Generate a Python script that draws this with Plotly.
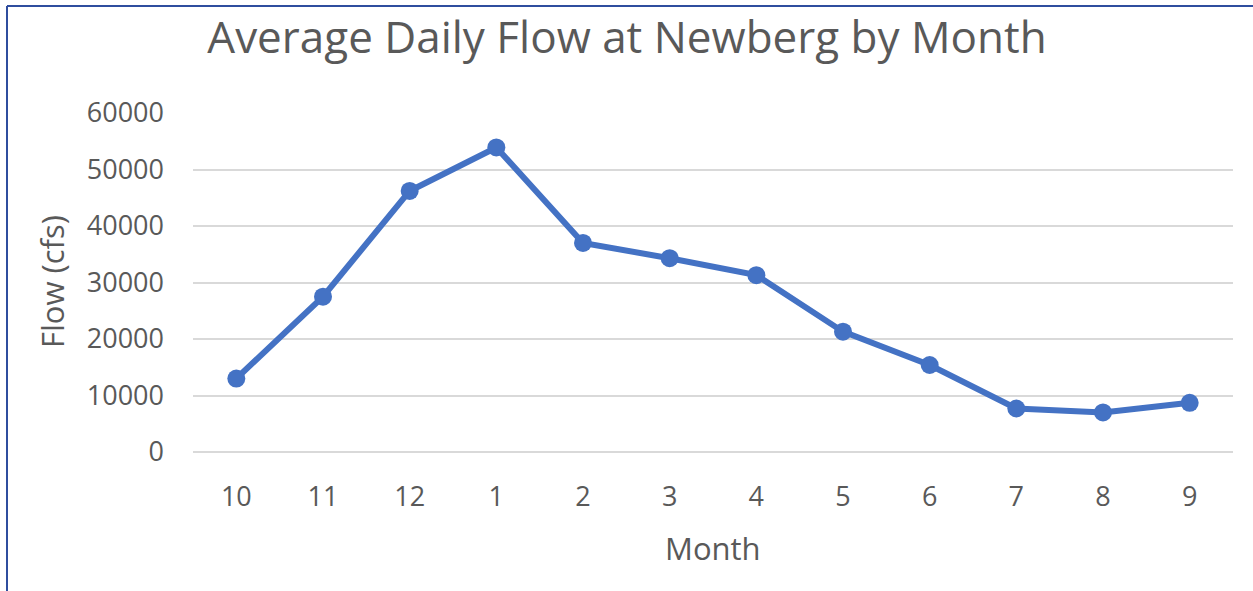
import plotly.graph_objects as go

# Water-year months, October through September
months = ["10", "11", "12", "1", "2", "3", "4", "5", "6", "7", "8", "9"]
flow_cfs = [13000, 27500, 46200, 53900, 37000, 34300, 31300, 21300, 15400, 7700, 7000, 8700]
y_ticks = [0, 10000, 20000, 30000, 40000, 50000, 60000]

W, H = 1253, 591
ML, MR, MT, MB = 193, 20, 113, 139
plot_w = W - ML - MR
plot_h = H - MT - MB

text_color = "#595959"
font_family = "Open Sans, Noto Sans, sans-serif"

fig = go.Figure()
fig.add_trace(go.Scatter(
    x=months,
    y=flow_cfs,
    mode="lines+markers",
    line=dict(color="#4472C4", width=6),
    marker=dict(color="#4472C4", size=18),
    hoverinfo="x+y",
))

def px_x(px):
    return (px - ML) / plot_w

def px_y(py):
    return (H - MB - py) / plot_h

# Frame edges along the top and left of the canvas
frame = dict(type="line", xref="paper", yref="paper",
             line=dict(color="#2F4D9E", width=2), layer="above")
fig.add_shape(**frame, x0=px_x(7), x1=px_x(7), y0=px_y(H + 5), y1=px_y(6))
fig.add_shape(**frame, x0=px_x(7), x1=px_x(W + 5), y0=px_y(6), y1=px_y(6))

fig.update_layout(
    width=W, height=H,
    margin=dict(l=ML, r=MR, t=MT, b=MB),
    paper_bgcolor="white",
    plot_bgcolor="white",
    showlegend=False,
    font=dict(family=font_family, color=text_color),
    title=dict(
        text="Average Daily Flow at Newberg by Month",
        x=px_x(627), xref="paper", xanchor="center",
        y=1 - 38 / H, yref="container", yanchor="middle",
        font=dict(size=44, color=text_color, family=font_family),
    ),
    annotations=[
        dict(text="Flow (cfs)", textangle=-90, showarrow=False,
             xref="paper", yref="paper", x=px_x(52), y=px_y(282),
             xanchor="center", yanchor="middle",
             font=dict(size=31, color=text_color, family=font_family)),
        dict(text="Month", showarrow=False,
             xref="paper", yref="paper", x=px_x(713), y=px_y(548),
             xanchor="center", yanchor="middle",
             font=dict(size=31, color=text_color, family=font_family)),
    ],
)

fig.update_xaxes(
    type="category",
    range=[-0.5, len(months) - 0.5],
    showgrid=False,
    showline=False,
    zeroline=False,
    ticks="",
    ticklabelstandoff=26,
    tickfont=dict(size=27, color=text_color, family=font_family),
)

fig.update_yaxes(
    range=[0, 60000],
    tickvals=y_ticks,
    ticktext=[str(v) for v in y_ticks],
    showgrid=True,
    gridcolor="#D9D9D9",
    gridwidth=2,
    zeroline=True,
    zerolinecolor="#D9D9D9",
    zerolinewidth=2,
    showline=False,
    ticks="",
    ticklabelstandoff=28,
    tickfont=dict(size=27, color=text_color, family=font_family),
)

fig.write_html("out.html")
